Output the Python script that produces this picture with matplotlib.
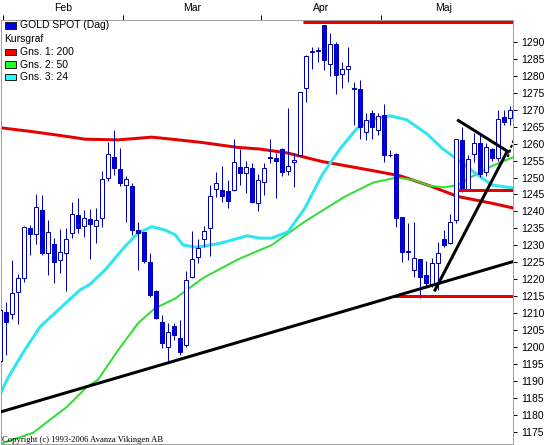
import matplotlib
matplotlib.use("Agg")
import matplotlib.pyplot as plt
from matplotlib.patches import Rectangle

# --- daily candles (day index 0 = first trading day of Feb) ---
days = list(range(-1, 85))
opens = [1196.0, 1210.2, 1209.7, 1216.1, 1220.3, 1235.0, 1233.3, 1240.3, 1227.7, 1230.3,
         1225.7, 1227.7, 1233.6, 1239.0, 1235.7, 1237.8, 1235.8, 1238.0, 1249.8, 1256.0,
         1252.4, 1247.8, 1247.5, 1234.4, 1233.8, 1225.2, 1216.4, 1207.5, 1200.1, 1206.2,
         1202.6, 1200.6, 1220.8, 1226.7, 1231.9, 1235.0, 1246.6, 1246.3, 1245.9, 1246.2,
         1253.0, 1251.3, 1252.9, 1242.4, 1248.6, 1255.7, 1255.7, 1258.5, 1251.8, 1254.7,
         1256.5, 1276.5, 1287.0, 1287.3, 1295.0, 1283.4, 1289.3, 1280.5, 1282.0, 1276.0,
         1276.0, 1263.5, 1269.0, 1264.0, 1268.5, 1256.7, 1257.0, 1238.3, 1228.0, 1222.7,
         1225.9, 1221.3, 1218.3, 1224.7, 1231.8, 1230.6, 1237.5, 1261.1, 1246.5, 1257.0,
         1260.1, 1251.7, 1258.3, 1255.7, 1267.8, 1267.5]
highs = [1211.5, 1213.4, 1225.7, 1221.6, 1235.7, 1236.0, 1245.2, 1244.9, 1237.5, 1232.1,
         1234.7, 1235.0, 1242.9, 1243.9, 1240.5, 1240.8, 1240.9, 1251.8, 1260.6, 1264.1,
         1258.6, 1250.3, 1248.3, 1237.0, 1234.0, 1227.7, 1216.9, 1209.5, 1207.0, 1207.0,
         1208.0, 1222.3, 1234.1, 1231.8, 1235.7, 1247.8, 1251.5, 1253.4, 1249.3, 1261.3,
         1258.3, 1255.0, 1254.4, 1251.0, 1254.2, 1261.4, 1257.2, 1258.8, 1270.6, 1257.2,
         1275.2, 1286.2, 1288.6, 1288.6, 1295.0, 1292.6, 1290.1, 1284.2, 1288.6, 1278.3,
         1278.8, 1269.0, 1270.0, 1269.0, 1271.7, 1258.1, 1257.2, 1238.3, 1236.5, 1237.0,
         1225.9, 1225.5, 1226.2, 1231.1, 1234.5, 1239.3, 1261.5, 1265.0, 1256.7, 1263.1,
         1263.1, 1260.1, 1258.6, 1270.0, 1270.0, 1271.0]
lows = [1195.5, 1197.7, 1208.2, 1206.8, 1219.1, 1227.2, 1230.4, 1227.2, 1221.3, 1219.0,
        1221.8, 1216.4, 1232.1, 1233.6, 1232.4, 1226.1, 1230.8, 1235.5, 1249.1, 1250.8,
        1247.5, 1237.0, 1233.1, 1222.8, 1224.9, 1214.9, 1208.2, 1199.8, 1196.0, 1202.0,
        1197.7, 1200.0, 1220.3, 1224.7, 1229.6, 1226.9, 1244.2, 1242.9, 1240.9, 1245.9,
        1247.8, 1245.4, 1242.6, 1240.0, 1244.9, 1254.2, 1244.1, 1250.3, 1250.6, 1247.3,
        1256.2, 1272.4, 1282.0, 1284.2, 1281.7, 1279.8, 1274.6, 1276.5, 1278.2, 1265.5,
        1261.3, 1261.1, 1261.3, 1262.6, 1254.7, 1256.0, 1235.5, 1225.2, 1225.7, 1220.8,
        1214.4, 1217.5, 1217.8, 1216.8, 1229.6, 1230.4, 1236.5, 1245.8, 1246.3, 1254.7,
        1250.1, 1250.3, 1255.0, 1255.0, 1265.5, 1265.5]
closes = [1211.0, 1207.3, 1215.9, 1220.3, 1235.3, 1233.3, 1241.4, 1227.7, 1233.8, 1225.2,
          1228.0, 1231.8, 1239.2, 1235.0, 1238.0, 1236.3, 1237.5, 1249.5, 1257.0, 1252.9,
          1248.3, 1249.5, 1234.4, 1233.5, 1225.5, 1215.4, 1208.5, 1201.1, 1204.4, 1203.6,
          1198.6, 1219.8, 1225.9, 1229.1, 1234.3, 1244.6, 1248.5, 1244.4, 1243.2, 1254.5,
          1251.3, 1253.2, 1242.9, 1249.3, 1252.9, 1256.0, 1255.0, 1251.6, 1253.5, 1255.2,
          1275.2, 1285.7, 1287.3, 1287.5, 1284.7, 1289.3, 1280.1, 1282.0, 1283.0, 1276.5,
          1265.0, 1267.0, 1264.8, 1268.2, 1256.7, 1256.5, 1238.0, 1227.9, 1228.2, 1226.2,
          1220.8, 1218.8, 1224.9, 1227.8, 1230.1, 1237.0, 1261.3, 1246.3, 1255.5, 1260.1,
          1251.1, 1258.9, 1255.7, 1267.2, 1266.5, 1270.0]

# --- moving averages (day index, value) ---
ma200_day = [-1.0, 4.5, 10.2, 13.2, 18.7, 24.3, 28.2, 32.8, 38.5, 42.3,
             47.0, 52.7, 56.5, 61.2, 65.7, 70.7, 75.3, 81.0, 84.8]
ma200_val = [1264.7, 1263.5, 1262.1, 1261.3, 1261.1, 1261.9, 1261.2, 1260.3, 1258.9, 1258.4,
             1257.2, 1254.7, 1253.5, 1252.0, 1250.5, 1247.5, 1244.4, 1242.4, 1240.9]
ma50_day = [-0.5, 4.5, 10.2, 13.5, 15.3, 18.7, 22.0, 24.8, 28.2, 32.8, 38.5, 42.3,
            44.3, 49.8, 56.5, 61.2, 65.2, 67.8, 70.7, 73.2, 75.3, 78.2, 81.0, 84.8]
ma50_val = [1171.7, 1174.7, 1182.4, 1188.3, 1190.3, 1199.1, 1207.0, 1211.4, 1214.3, 1220.3,
            1225.7, 1228.6, 1230.1, 1237.0, 1244.4, 1248.5, 1250.0, 1249.3, 1247.5, 1247.1,
            1247.8, 1250.8, 1253.4, 1256.2]
ma24_day = [-1.0, 0.3, 2.8, 5.7, 9.0, 12.3, 14.0, 16.5, 19.8, 22.0, 24.3, 26.5, 28.2,
            29.5, 31.8, 35.7, 40.2, 42.3, 44.3, 47.0, 49.8, 52.7, 55.7, 58.5, 61.2, 64.0,
            66.8, 70.2, 72.7, 75.3, 78.2, 81.0, 84.8]
ma24_val = [1186.0, 1190.8, 1198.2, 1206.0, 1211.4, 1216.8, 1218.5, 1222.7, 1229.6, 1233.6,
            1235.5, 1234.5, 1233.1, 1230.1, 1229.4, 1230.6, 1232.8, 1232.1, 1232.1, 1234.0,
            1240.9, 1250.8, 1258.5, 1264.5, 1267.2, 1268.2, 1267.0, 1262.8, 1258.6, 1255.2,
            1251.3, 1247.8, 1246.8]

# --- hand-drawn trend lines and levels ---
support_day, support_val = [-1.0, 84.5], [1180.8, 1225.2]
steep_day, steep_val = [71.5, 83.5], [1216.8, 1257.6]
fall_day, fall_val = [75.4, 83.7], [1266.8, 1257.6]
ext_day, ext_val = [83.6, 84.6], [1256.0, 1261.0]
levels = [(49.5, 84.5, 1295.8), (64.5, 84.5, 1215.0), (75.3, 84.5, 1246.3)]

month_edges = [-0.5, 19.5, 42.5, 62.5]
month_mid = [9.5, 31.0, 52.5, 73.0]
month_names = ["Feb", "Mar", "Apr", "Maj"]
y_ticks = list(range(1175, 1291, 5))

W, H = 549, 445
plt.rcParams["font.family"] = ["Liberation Sans", "DejaVu Sans"]
fig = plt.figure(figsize=(W / 100, H / 100), dpi=100)
ax = fig.add_axes([1 / W, 1 - 444 / H, 512 / W, 424.5 / H])

blue_edge = "#0000b4"
blue_fill = "#0000e6"
px = 0.72  # one pixel in points

# moving averages under the candles
ax.plot(ma200_day, ma200_val, color="#e60000", lw=3 * px, zorder=2)
ax.plot(ma50_day, ma50_val, color="#33dd33", lw=2 * px, zorder=2)
ax.plot(ma24_day, ma24_val, color="#2ee6f0", lw=3 * px, zorder=2)

for d, o, h, l, c in zip(days, opens, highs, lows, closes):
    ax.vlines(d, l, h, color=blue_edge, lw=px, zorder=3)
    lo, hi = min(o, c), max(o, c)
    face = "white" if c >= o else blue_fill
    ax.add_patch(Rectangle((d - 0.33, lo), 0.66, max(hi - lo, 0.05),
                           facecolor=face, edgecolor=blue_edge, lw=px, zorder=4))

for x0, x1, v in levels:
    ax.plot([x0, x1], [v, v], color="#e60000", lw=3 * px, zorder=5, solid_capstyle="butt")
for xs, ys in [(support_day, support_val), (steep_day, steep_val), (fall_day, fall_val)]:
    ax.plot(xs, ys, color="black", lw=3 * px, zorder=6)
ax.plot(ext_day, ext_val, color="black", lw=2 * px, ls=(0, (1.5, 1)), zorder=6)

ax.set_xlim(-0.83, 84.5)
ax.set_ylim(1171.4, 1296.6)

for s in ax.spines.values():
    s.set_color("#a0a0a0")
    s.set_linewidth(px)

ax.yaxis.tick_right()
ax.set_yticks(y_ticks)
ax.tick_params(axis="y", direction="out", length=4 * px, width=px, color="black",
               pad=3, labelsize=7.5)

ax.xaxis.tick_top()
ax.set_xticks(month_edges)
ax.set_xticklabels([])
ax.set_xticks(month_mid, minor=True)
ax.set_xticklabels(month_names, minor=True)
ax.tick_params(axis="x", which="major", direction="out", length=5 * px, width=px, color="black")
ax.tick_params(axis="x", which="minor", length=0, pad=5, labelsize=7.5)

# legend drawn by hand, top left
legend_items = [("GOLD SPOT (Dag)", blue_fill), ("Kursgraf", None),
                ("Gns. 1: 200", "#ff0000"), ("Gns. 2: 50", "#22ff22"), ("Gns. 3: 24", "#22ffff")]
legend_rows = [25.5, 39.5, 52.0, 64.5, 77.0]
for (label, col), yc in zip(legend_items, legend_rows):
    if col is None:
        fig.text(4 / W, 1 - yc / H, label, va="center", ha="left", fontsize=7.5)
        continue
    fig.patches.append(Rectangle((4.5 / W, 1 - (yc + 3) / H), 11.5 / W, 6 / H,
                                 facecolor=col, edgecolor="#202020", lw=px,
                                 transform=fig.transFigure, figure=fig))
    fig.text(20 / W, 1 - yc / H, label, va="center", ha="left", fontsize=7.5)

fig.text(2 / W, 1 - 442 / H, "Copyright (c) 1993-2006 Avanza Vikingen AB",
         family="Liberation Serif", fontsize=6.2, va="baseline", ha="left")

fig.savefig("out.png", dpi=100)
